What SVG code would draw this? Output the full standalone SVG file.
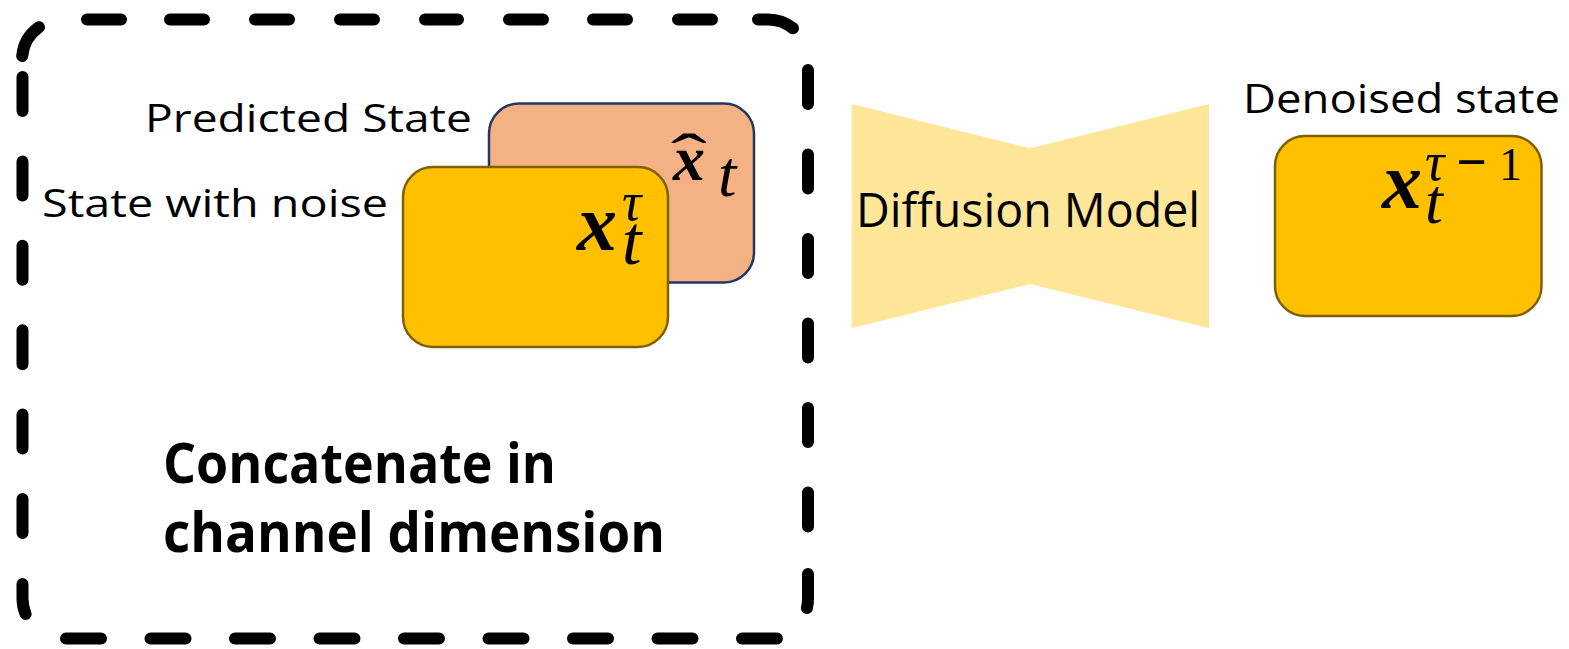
<svg xmlns="http://www.w3.org/2000/svg" width="1569" height="649" viewBox="0 0 1569 649">
  <style>
    .label { font-family: "Open Sans", "Noto Sans", "Liberation Sans", sans-serif; fill: #000; }
    .bold { font-weight: 700; }
    .math { font-family: "Liberation Serif", "DejaVu Serif", serif; fill: #000; }
    .mx { font-weight: 700; font-style: italic; }
    .mi { font-style: italic; }
    .dash { fill: none; stroke: #000; stroke-width: 12; stroke-linecap: round; }
    .card-noise { fill: #FFC000; stroke: #7F6000; stroke-width: 2.5; }
    .card-pred { fill: #F4B183; stroke: #203864; stroke-width: 2.5; }
    .unet { fill: #FFE699; }
  </style>

  <!-- dashed frame around the concatenation step -->
  <g id="concat-frame">
    <path class="dash" d="M22.2,56 A40,40 0 0 1 39,27.2
      M87,19.5 H121 M170,19.5 H204 M255,19.5 H289 M340,19.5 H374 M425,19.5 H458 M509,19.5 H543 M593,19.5 H627 M678,19.5 H712
      M758,19.5 H768 A40,40 0 0 1 793,28.3
      M808,70 V104 M808,154.5 V188.5 M808,239 V273 M808,323.5 V357.5 M808,408 V442 M808,492.5 V526.5
      M808,574 V598.5 A40,40 0 0 1 806.9,608
      M66,638.5 H101 M150.5,638.5 H185.5 M235,638.5 H270 M319.5,638.5 H354.5 M404,638.5 H439 M488.5,638.5 H523.5 M573,638.5 H608 M657.5,638.5 H692.5 M742,638.5 H777
      M22.5,77 V111 M22.5,161.4 V195.4 M22.5,245.8 V279.8 M22.5,330.2 V364.2 M22.5,414.6 V448.6 M22.5,499 V533
      M22.5,584 V598.5 A40,40 0 0 0 25.6,614"/>
    <text class="label bold" x="163" y="482.7" font-size="55" textLength="393" lengthAdjust="spacingAndGlyphs">Concatenate in</text>
    <text class="label bold" x="163" y="551.7" font-size="55" textLength="502" lengthAdjust="spacingAndGlyphs">channel dimension</text>
  </g>

  <!-- predicted state (behind) -->
  <g id="predicted-state">
    <rect class="card-pred" x="489" y="103.5" width="265" height="179" rx="30" ry="30"/>
    <text class="label" x="145" y="131.7" font-size="39" textLength="327" lengthAdjust="spacingAndGlyphs">Predicted State</text>
    <text class="math" x="689" y="178" font-size="64" text-anchor="middle" transform="translate(689 0) scale(1.7 1) translate(-689 0)">ˆ</text>
    <text class="math mx" x="673" y="180" font-size="64">x</text>
    <text class="math mi" x="718" y="196" font-size="66">t</text>
  </g>

  <!-- noisy state (front) -->
  <g id="noisy-state">
    <rect class="card-noise" x="403" y="167" width="265" height="180" rx="30" ry="30"/>
    <text class="label" x="42" y="216.7" font-size="39" textLength="346" lengthAdjust="spacingAndGlyphs">State with noise</text>
    <text class="math mx" x="577" y="250" font-size="80">x</text>
    <text class="math mi" x="622" y="220" font-size="54">τ</text>
    <text class="math mi" x="622" y="264" font-size="70">t</text>
  </g>

  <!-- diffusion model: encoder / decoder bow-tie -->
  <g id="diffusion-model">
    <polygon class="unet" points="851.7,104 1030,148.3 1030,284 851.7,328.3"/>
    <polygon class="unet" points="1030,148.3 1209,104 1209,328.3 1030,284"/>
    <text class="label" x="856" y="226.7" font-size="47" textLength="344" lengthAdjust="spacingAndGlyphs">Diffusion Model</text>
  </g>

  <!-- denoised output -->
  <g id="denoised-state">
    <rect class="card-noise" x="1275" y="136" width="266.5" height="180" rx="30" ry="30"/>
    <text class="label" x="1243" y="113.3" font-size="41" textLength="317" lengthAdjust="spacingAndGlyphs">Denoised state</text>
    <text class="math mx" x="1382" y="208" font-size="80">x</text>
    <text class="math mi" x="1425" y="180" font-size="54">τ</text>
    <text class="math mx" x="1455" y="180" font-size="54">−</text>
    <text class="math" x="1499" y="180" font-size="46">1</text>
    <text class="math mi" x="1425" y="223" font-size="64">t</text>
  </g>

  <!-- no connectors are drawn between the stages -->
  <g id="connectors"/>
</svg>
